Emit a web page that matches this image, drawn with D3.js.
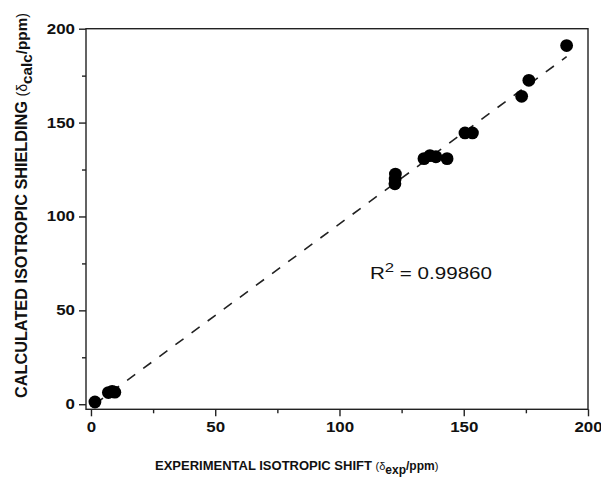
<!DOCTYPE html>
<html>
<head>
<meta charset="utf-8">
<script src="https://cdn.jsdelivr.net/npm/d3@7"></script>
<style>
html,body{margin:0;padding:0;background:#fff;}
svg{display:block;}
text{font-family:"Liberation Sans",Arial,sans-serif;fill:#111;}
</style>
</head>
<body>
<svg id="chart" width="601" height="477"></svg>
<script>
// ---- data ----
const expShift = [1.6, 7.0, 8.5, 9.6, 122.3, 122.4, 122.5, 134.0, 136.4, 138.8, 143.3, 150.5, 153.5, 173.3, 176.2, 191.4];
const calcShift = [1.2, 6.2, 6.8, 6.4, 117.4, 120.0, 122.6, 130.8, 132.4, 131.8, 130.8, 144.5, 144.5, 164.0, 172.5, 191.0];
const majorTicks = [0, 50, 100, 150, 200];
const minorTicks = [25, 75, 125, 175];
const r2Label = "0.99860";

const points = expShift.map((x, i) => ({x, y: calcShift[i]}));

const svg = d3.select("#chart");
const mLeft = 86, mRight = 588, mTop = 28.7, mBottom = 409.3;

const x = d3.scaleLinear().domain([-2, 200]).range([mLeft, mRight]);
const y = d3.scaleLinear().domain([-2.7, 200]).range([mBottom, mTop]);

// frame
svg.append("rect").attr("x", mLeft).attr("y", mTop)
  .attr("width", mRight - mLeft).attr("height", mBottom - mTop)
  .attr("fill", "none").attr("stroke", "#222").attr("stroke-width", 1.4);

// axes
const xAxis = svg.append("g").attr("transform", `translate(0,${mBottom})`)
  .call(d3.axisBottom(x).tickValues(majorTicks).tickSize(7).tickSizeOuter(0).tickPadding(5));
const xMinor = svg.append("g").attr("transform", `translate(0,${mBottom})`)
  .call(d3.axisBottom(x).tickValues(minorTicks).tickSize(4).tickSizeOuter(0).tickFormat(""));
const yAxis = svg.append("g").attr("transform", `translate(${mLeft},0)`)
  .call(d3.axisLeft(y).tickValues(majorTicks).tickSize(7).tickSizeOuter(0).tickPadding(4));
const yMinor = svg.append("g").attr("transform", `translate(${mLeft},0)`)
  .call(d3.axisLeft(y).tickValues(minorTicks).tickSize(4).tickSizeOuter(0).tickFormat(""));

[xAxis, xMinor, yAxis, yMinor].forEach(g => {
  g.select(".domain").remove();
  g.selectAll(".tick line").attr("stroke", "#222").attr("stroke-width", 1.4);
});
[xAxis, yAxis].forEach(g => {
  g.selectAll(".tick text")
    .attr("font-family", "Liberation Sans, Arial, sans-serif")
    .attr("font-size", 14).attr("font-weight", "bold").attr("fill", "#111")
    .attr("textLength", d => String(d).length * 9.4)
    .attr("lengthAdjust", "spacingAndGlyphs");
});
xAxis.selectAll(".tick text").attr("dy", "0.8em");

// regression line (least squares fit of the data)
const mx = d3.mean(points, d => d.x), my = d3.mean(points, d => d.y);
const slope = d3.sum(points, d => (d.x - mx) * (d.y - my)) / d3.sum(points, d => (d.x - mx) ** 2);
const intercept = my - slope * mx;
const [x0, x1] = d3.extent(expShift);
svg.append("line")
  .attr("x1", x(x0)).attr("y1", y(intercept + slope * x0))
  .attr("x2", x(x1)).attr("y2", y(intercept + slope * x1))
  .attr("stroke", "#222").attr("stroke-width", 1.6)
  .attr("stroke-dasharray", "10,10");

// points
svg.append("g").selectAll("circle").data(points).join("circle")
  .attr("cx", d => x(d.x)).attr("cy", d => y(d.y)).attr("r", 6.4)
  .attr("fill", "#000");

// R^2 annotation
const rt = svg.append("text").attr("x", 370).attr("y", 279.3)
  .attr("font-size", 16).attr("textLength", 122).attr("lengthAdjust", "spacingAndGlyphs");
rt.append("tspan").text("R");
rt.append("tspan").attr("font-size", 13).attr("dy", -7).text("2");
rt.append("tspan").attr("dy", 7).text(" = " + r2Label);

// x axis title
const xt = svg.append("text").attr("x", 155).attr("y", 470)
  .attr("font-size", 13);
xt.append("tspan").attr("font-weight", "bold").text("EXPERIMENTAL ISOTROPIC SHIFT ");
xt.append("tspan").attr("font-size", 11).text("(δ");
xt.append("tspan").attr("font-weight", "bold").attr("font-size", 12).attr("dy", 4).text("exp");
xt.append("tspan").attr("font-weight", "bold").attr("font-size", 12).attr("dy", -4).text("/ppm");
xt.append("tspan").attr("font-size", 11).text(")");

// y axis title
const yt = svg.append("text")
  .attr("transform", "translate(26.5,398) rotate(-90)")
  .attr("x", 0).attr("y", 0)
  .attr("font-size", 16).attr("textLength", 385).attr("lengthAdjust", "spacingAndGlyphs");
yt.append("tspan").attr("font-weight", "bold").text("CALCULATED ISOTROPIC SHIELDING ");
yt.append("tspan").attr("font-size", 14).text("(δ");
yt.append("tspan").attr("font-weight", "bold").attr("font-size", 15).attr("dy", 5).text("calc");
yt.append("tspan").attr("font-weight", "bold").attr("font-size", 15).attr("dy", -5).text("/ppm");
yt.append("tspan").attr("font-size", 14).text(")");
</script>
</body>
</html>
